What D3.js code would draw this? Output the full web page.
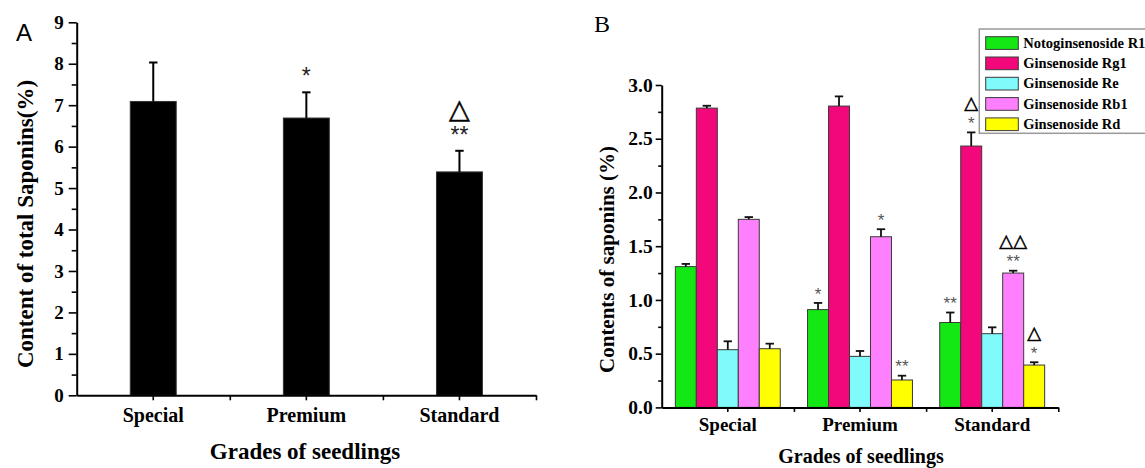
<!DOCTYPE html>
<html><head><meta charset="utf-8">
<script src="https://cdn.jsdelivr.net/npm/d3@7"></script>
<style>body{margin:0;background:#fff}svg{display:block}</style>
</head><body>
<svg id="chart" width="1145" height="468"></svg>
<script>
// ---------- DATA ----------
const categories = ["Special", "Premium", "Standard"];

// Panel A: total saponins
const totalValues = [7.09, 6.69, 5.39];
const totalErrors = [0.94, 0.62, 0.51];
const totalStars = ["", "*", "**"];
const totalTriangles = ["", "", "△"];
const yTicksA = [0, 1, 2, 3, 4, 5, 6, 7, 8, 9];

// Panel B: individual saponins
const seriesNames = ["Notoginsenoside R1", "Ginsenoside Rg1", "Ginsenoside Re", "Ginsenoside Rb1", "Ginsenoside Rd"];
const seriesColors = ["#14E814", "#F2087A", "#80FAFA", "#FF80FF", "#FFFF00"];
const r1Values  = [1.31, 0.91, 0.79];   const r1Errors  = [0.025, 0.062, 0.093];
const rg1Values = [2.785, 2.804, 2.432]; const rg1Errors = [0.022, 0.090, 0.127];
const reValues  = [0.537, 0.475, 0.686]; const reErrors  = [0.078, 0.050, 0.059];
const rb1Values = [1.750, 1.588, 1.250]; const rb1Errors = [0.021, 0.070, 0.022];
const rdValues  = [0.546, 0.255, 0.394]; const rdErrors  = [0.047, 0.040, 0.026];
const r1Stars  = ["", "*", "**"];  const r1Tri  = ["", "", ""];
const rg1Stars = ["", "", "*"];    const rg1Tri = ["", "", "△"];
const reStars  = ["", "", ""];     const reTri  = ["", "", ""];
const rb1Stars = ["", "*", "**"];  const rb1Tri = ["", "", "△△"];
const rdStars  = ["", "**", "*"];  const rdTri  = ["", "", "△"];
const yTicksB = [0, 0.5, 1.0, 1.5, 2.0, 2.5, 3.0];

// ---------- BUILD ----------
const seriesValues = [r1Values, rg1Values, reValues, rb1Values, rdValues];
const seriesErrors = [r1Errors, rg1Errors, reErrors, rb1Errors, rdErrors];
const seriesStars = [r1Stars, rg1Stars, reStars, rb1Stars, rdStars];
const seriesTris = [r1Tri, rg1Tri, reTri, rb1Tri, rdTri];

const svg = d3.select("#chart");
const serif = "'Liberation Serif','Times New Roman',serif";
const sans = "'Liberation Sans',Arial,sans-serif";
const triFont = "'DejaVu Sans',sans-serif";

function styleAxis(g, sw) {
  g.select(".domain").attr("stroke", "#000").attr("stroke-width", sw);
  g.selectAll(".tick line").attr("stroke", "#000").attr("stroke-width", sw * 0.8);
}

// annotation: optional triangle text above a star text
function annotate(g, data, o) {
  g.selectAll(null).data(data.filter(o.tri)).join("text")
    .attr("x", o.x).attr("y", (d) => o.top(d) - o.triOff + 0.346 * o.triSize)
    .attr("text-anchor", "middle").attr("font-family", triFont).attr("font-size", o.triSize)
    .attr("fill", "#000").attr("stroke", "#000").attr("stroke-width", o.triStroke)
    .text(o.tri);
  g.selectAll(null).data(data.filter(o.star)).join("text")
    .attr("x", o.x).attr("y", (d) => o.top(d) - o.starOff + 0.57 * o.starSize)
    .attr("text-anchor", "middle").attr("font-family", sans).attr("font-size", o.starSize)
    .attr("fill", o.starColor)
    .text(o.star);
}

// ===== Panel A =====
const xA = d3.scaleBand().domain(categories).range([76.7, 536]).padding(0);
const yA = d3.scaleLinear().domain([0, 9]).range([395.3, 22.3]);
const barWA = xA.bandwidth() * 0.3;
const gA = svg.append("g");

gA.selectAll("rect.bar").data(categories).join("rect")
  .attr("x", (c) => xA(c) + (xA.bandwidth() - barWA) / 2)
  .attr("y", (c, i) => yA(totalValues[i]))
  .attr("width", barWA)
  .attr("height", (c, i) => yA(0) - yA(totalValues[i]))
  .attr("fill", "#000").attr("stroke", "#333").attr("stroke-width", 1);

const errA = gA.selectAll("g.err").data(categories).join("g");
errA.append("line")
  .attr("x1", (c) => xA(c) + xA.bandwidth() / 2).attr("x2", (c) => xA(c) + xA.bandwidth() / 2)
  .attr("y1", (c, i) => yA(totalValues[i])).attr("y2", (c, i) => yA(totalValues[i] + totalErrors[i]))
  .attr("stroke", "#000").attr("stroke-width", 2);
errA.append("line")
  .attr("x1", (c) => xA(c) + xA.bandwidth() / 2 - 4.2).attr("x2", (c) => xA(c) + xA.bandwidth() / 2 + 4.2)
  .attr("y1", (c, i) => yA(totalValues[i] + totalErrors[i])).attr("y2", (c, i) => yA(totalValues[i] + totalErrors[i]))
  .attr("stroke", "#000").attr("stroke-width", 2);

// left axis A
const axA = gA.append("g").attr("transform", `translate(${xA.range()[0]},0)`)
  .call(d3.axisLeft(yA).tickValues(yTicksA).tickSize(8).tickSizeOuter(0).tickPadding(5).tickFormat(d3.format("d")));
styleAxis(axA, 2);
axA.selectAll("text").attr("font-family", serif).attr("font-weight", "bold").attr("font-size", 19).attr("fill", "#000");
const axAm = gA.append("g").attr("transform", `translate(${xA.range()[0]},0)`)
  .call(d3.axisLeft(yA).tickValues(d3.range(0.5, 9, 1)).tickSize(5).tickSizeOuter(0).tickFormat(""));
styleAxis(axAm, 2);
axAm.select(".domain").remove();

// bottom axis A
const axAb = gA.append("g").attr("transform", `translate(0,${yA(0)})`)
  .call(d3.axisBottom(xA).tickSize(5).tickSizeOuter(0));
styleAxis(axAb, 2);
axAb.selectAll("text").attr("dy", null).attr("y", 27).attr("font-family", serif).attr("font-weight", "bold").attr("font-size", 20).attr("fill", "#000");
const bA = d3.scaleLinear().domain([0, categories.length]).range(xA.range());
const axAb2 = gA.append("g").attr("transform", `translate(0,${yA(0)})`)
  .call(d3.axisBottom(bA).tickValues(d3.range(1, categories.length + 1)).tickSize(5).tickSizeOuter(0).tickFormat(""));
styleAxis(axAb2, 2);
axAb2.select(".domain").remove();

// annotations A
const annA = categories.map((c, i) => ({ c, i }));
annotate(gA, annA, {
  x: (d) => xA(d.c) + xA.bandwidth() / 2,
  top: (d) => yA(totalValues[d.i] + totalErrors[d.i]),
  tri: (d) => totalTriangles[d.i], star: (d) => totalStars[d.i],
  triOff: 42, triSize: 27, triStroke: 0.5,
  starOff: 21, starSize: 23, starColor: "#222"
});

// titles A
svg.append("text").attr("transform", "translate(33,224) rotate(-90)").attr("text-anchor", "middle")
  .attr("font-family", serif).attr("font-weight", "bold").attr("font-size", 23).text("Content of total Saponins(%)");
svg.append("text").attr("x", 305).attr("y", 459).attr("text-anchor", "middle")
  .attr("font-family", serif).attr("font-weight", "bold").attr("font-size", 23).text("Grades of seedlings");
svg.append("text").attr("x", 16).attr("y", 41).attr("font-family", sans).attr("font-size", 24).text("A");

// ===== Panel B =====
const xB = d3.scaleBand().domain(categories).range([661.7, 1058.3]).padding(0);
const xSub = d3.scaleBand().domain(seriesNames).range([0, xB.bandwidth()]).paddingInner(0).paddingOuter(0.65);
const yB = d3.scaleLinear().domain([0, 3]).range([407.4, 85]);
const gB = svg.append("g");

const flat = [];
categories.forEach((c, ci) => seriesNames.forEach((s, si) => flat.push({
  c, s, si, v: seriesValues[si][ci], e: seriesErrors[si][ci], star: seriesStars[si][ci], tri: seriesTris[si][ci]
})));

gB.selectAll("rect.bar").data(flat).join("rect")
  .attr("x", (d) => xB(d.c) + xSub(d.s))
  .attr("y", (d) => yB(d.v))
  .attr("width", xSub.bandwidth())
  .attr("height", (d) => yB(0) - yB(d.v))
  .attr("fill", (d) => seriesColors[d.si]).attr("stroke", "#3a3a3a").attr("stroke-width", 1);

const cx = (d) => xB(d.c) + xSub(d.s) + xSub.bandwidth() / 2;
const errB = gB.selectAll("g.err").data(flat).join("g");
errB.append("line").attr("x1", cx).attr("x2", cx)
  .attr("y1", (d) => yB(d.v)).attr("y2", (d) => yB(d.v + d.e))
  .attr("stroke", "#111").attr("stroke-width", 1.8);
errB.append("line").attr("x1", (d) => cx(d) - 4.2).attr("x2", (d) => cx(d) + 4.2)
  .attr("y1", (d) => yB(d.v + d.e)).attr("y2", (d) => yB(d.v + d.e))
  .attr("stroke", "#111").attr("stroke-width", 1.8);

const axB = gB.append("g").attr("transform", `translate(${xB.range()[0]},0)`)
  .call(d3.axisLeft(yB).tickValues(yTicksB).tickSize(6).tickSizeOuter(0).tickPadding(3).tickFormat(d3.format(".1f")));
styleAxis(axB, 2);
axB.selectAll("text").attr("font-family", serif).attr("font-weight", "bold").attr("font-size", 19.5).attr("fill", "#000");
const axBm = gB.append("g").attr("transform", `translate(${xB.range()[0]},0)`)
  .call(d3.axisLeft(yB).tickValues(d3.range(0.25, 3, 0.5)).tickSize(3.5).tickSizeOuter(0).tickFormat(""));
styleAxis(axBm, 2);
axBm.select(".domain").remove();

const axBb = gB.append("g").attr("transform", `translate(0,${yB(0)})`)
  .call(d3.axisBottom(xB).tickSize(4.5).tickSizeOuter(0));
styleAxis(axBb, 2);
axBb.selectAll("text").attr("dy", null).attr("y", 23.5).attr("font-family", serif).attr("font-weight", "bold").attr("font-size", 19).attr("fill", "#000");
const bB = d3.scaleLinear().domain([0, categories.length]).range(xB.range());
const axBb2 = gB.append("g").attr("transform", `translate(0,${yB(0)})`)
  .call(d3.axisBottom(bB).tickValues(d3.range(1, categories.length + 1)).tickSize(4.5).tickSizeOuter(0).tickFormat(""));
styleAxis(axBb2, 2);
axBb2.select(".domain").remove();

// annotations B
annotate(gB, flat, {
  x: cx,
  top: (d) => yB(d.v + d.e),
  tri: (d) => d.tri, star: (d) => d.star,
  triOff: 29.5, triSize: 18, triStroke: 0.5,
  starOff: 13, starSize: 17, starColor: "#555"
});

svg.append("text").attr("transform", "translate(614,259.5) rotate(-90)").attr("text-anchor", "middle")
  .attr("font-family", serif).attr("font-weight", "bold").attr("font-size", 21).text("Contents of saponins (%)");
svg.append("text").attr("x", 861).attr("y", 463).attr("text-anchor", "middle")
  .attr("font-family", serif).attr("font-weight", "bold").attr("font-size", 20).text("Grades of seedlings");
svg.append("text").attr("x", 594).attr("y", 32).attr("font-family", serif).attr("font-size", 24).text("B");

// legend
const lg = svg.append("g");
lg.append("rect").attr("x", 979.3).attr("y", 29).attr("width", 180).attr("height", 104.3)
  .attr("fill", "#fff").attr("stroke", "#999").attr("stroke-width", 1.5);
const rows = lg.selectAll("g.row").data(seriesNames).join("g")
  .attr("transform", (d, i) => `translate(0,${43 + i * 20.3})`);
rows.append("rect").attr("x", 985.7).attr("y", -6.3).attr("width", 32.6).attr("height", 12.7)
  .attr("fill", (d, i) => seriesColors[i]).attr("stroke", "#3a3a3a").attr("stroke-width", 1);
rows.append("text").attr("x", 1023.3).attr("y", 4.8)
  .attr("font-family", serif).attr("font-weight", "bold").attr("font-size", 14.5).text((d) => d);
</script>
</body></html>
